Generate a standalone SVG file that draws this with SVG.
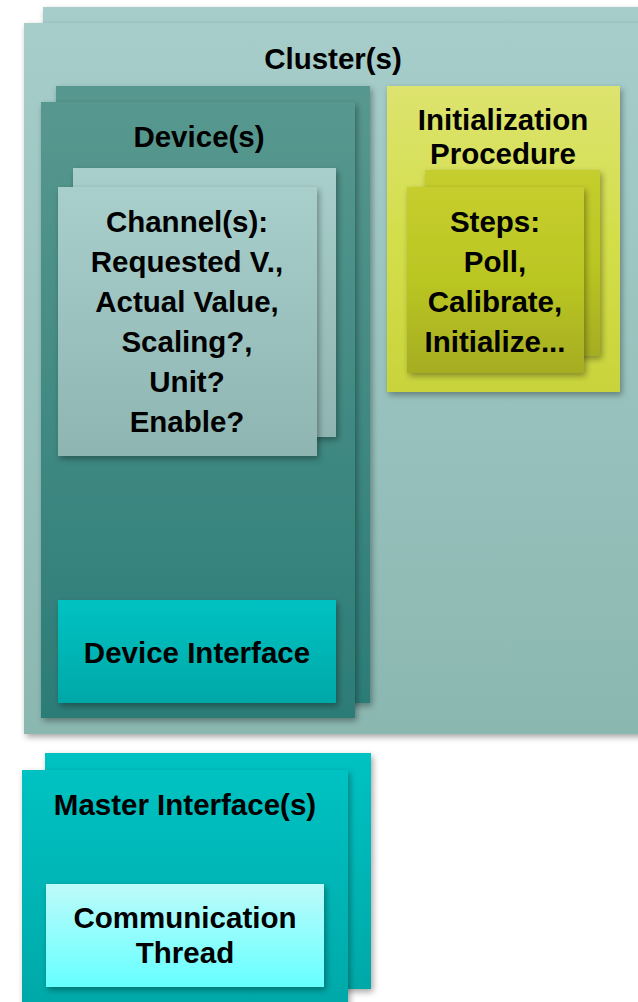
<svg xmlns="http://www.w3.org/2000/svg" width="638" height="1002" viewBox="0 0 638 1002">
<defs>
<filter id="sh" x="-10%" y="-10%" width="130%" height="130%">
<feDropShadow dx="2" dy="3" stdDeviation="3" flood-color="#000" flood-opacity="0.35"/>
</filter>
<linearGradient id="gCluster" x1="0" y1="0" x2="0" y2="1"><stop offset="0" stop-color="#a6cdca"/><stop offset="1" stop-color="#8bb7b1"/></linearGradient>
<linearGradient id="gDevice" x1="0" y1="0" x2="0" y2="1"><stop offset="0" stop-color="#57988f"/><stop offset="1" stop-color="#2c7c77"/></linearGradient>
<linearGradient id="gChannel" x1="0" y1="0" x2="0" y2="1"><stop offset="0" stop-color="#a8cfcb"/><stop offset="1" stop-color="#8eb5b1"/></linearGradient>
<linearGradient id="gInit" x1="0" y1="0" x2="0" y2="1"><stop offset="0" stop-color="#dde36f"/><stop offset="0.5" stop-color="#d3de4a"/><stop offset="1" stop-color="#c9d43c"/></linearGradient>
<linearGradient id="gSteps" x1="0" y1="0" x2="0" y2="1"><stop offset="0" stop-color="#c6ce2e"/><stop offset="0.5" stop-color="#bac623"/><stop offset="1" stop-color="#a6ad24"/></linearGradient>
<linearGradient id="gTeal" x1="0" y1="0" x2="0" y2="1"><stop offset="0" stop-color="#00c2c2"/><stop offset="1" stop-color="#00a8a8"/></linearGradient>
<linearGradient id="gComm" x1="0" y1="0" x2="0" y2="1"><stop offset="0" stop-color="#bdfafa"/><stop offset="1" stop-color="#66ffff"/></linearGradient>
</defs>
<style>
text{font-family:"Liberation Sans",Arial,sans-serif;font-weight:bold;font-size:29.5px;fill:#000;text-anchor:middle}
.s{filter:url(#sh)}
</style>
<rect width="638" height="1002" fill="#fff"/>
<g id="cluster">
<rect class="s" x="43" y="7" width="610" height="712" fill="url(#gCluster)"/>
<rect class="s" x="24" y="23" width="630" height="711" fill="url(#gCluster)"/>
<text x="333" y="69">Cluster(s)</text>
</g>
<g id="device">
<rect class="s" x="56" y="86" width="314" height="617" fill="url(#gDevice)"/>
<rect class="s" x="41" y="102" width="314" height="616" fill="url(#gDevice)"/>
<text x="199" y="147">Device(s)</text>
</g>
<g id="channel">
<rect class="s" x="73" y="168" width="263" height="269" fill="url(#gChannel)"/>
<rect class="s" x="58" y="187" width="259" height="269" fill="url(#gChannel)"/>
<text x="187" y="232">Channel(s):</text>
<text x="187" y="272">Requested V.,</text>
<text x="187" y="312">Actual Value,</text>
<text x="187" y="352">Scaling?,</text>
<text x="187" y="392">Unit?</text>
<text x="187" y="432">Enable?</text>
</g>
<g id="device-interface">
<rect class="s" x="58" y="600" width="278" height="103" fill="url(#gTeal)"/>
<text x="197" y="663">Device Interface</text>
</g>
<g id="init">
<rect class="s" x="387" y="86" width="233" height="306" fill="url(#gInit)"/>
<text x="503" y="130">Initialization</text>
<text x="503" y="164">Procedure</text>
</g>
<g id="steps">
<rect class="s" x="425" y="170" width="175" height="186" fill="url(#gSteps)"/>
<rect class="s" x="407" y="187" width="177" height="186" fill="url(#gSteps)"/>
<text x="495" y="232">Steps:</text>
<text x="495" y="272">Poll,</text>
<text x="495" y="312">Calibrate,</text>
<text x="495" y="352">Initialize...</text>
</g>
<g id="master">
<rect class="s" x="45" y="753" width="326" height="236" fill="url(#gTeal)"/>
<rect class="s" x="22" y="770" width="326" height="240" fill="url(#gTeal)"/>
<text x="185" y="815">Master Interface(s)</text>
</g>
<g id="comm">
<rect class="s" x="46" y="884" width="278" height="103" fill="url(#gComm)"/>
<text x="185" y="928">Communication</text>
<text x="185" y="963">Thread</text>
</g>
<g id="connectors"/>
</svg>
